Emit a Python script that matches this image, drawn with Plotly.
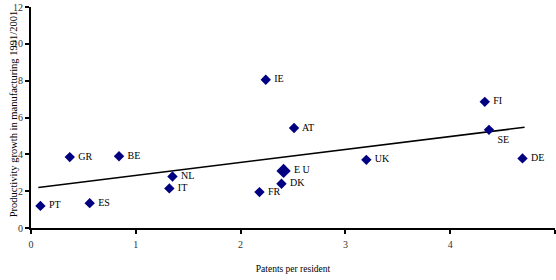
import plotly.graph_objects as go

countries = ["PT", "ES", "GR", "BE", "NL", "IT", "IE", "AT", "DK", "FR", "UK", "FI", "SE", "DE"]
patents = [0.09, 0.56, 0.37, 0.84, 1.35, 1.32, 2.24, 2.51, 2.39, 2.18, 3.20, 4.33, 4.37, 4.69]
productivity = [1.2, 1.35, 3.85, 3.9, 2.8, 2.15, 8.05, 5.43, 2.4, 1.95, 3.7, 6.85, 5.33, 3.78]

eu_label = ["E U"]
eu_patents = [2.41]
eu_productivity = [3.1]

trend_x = [0.07, 4.71]
trend_y = [2.2, 5.47]

x_ticks = [0, 1, 2, 3, 4, 5]
y_ticks = [0, 2, 4, 6, 8, 10, 12]

FONT = "Liberation Serif"
NAVY = "#000080"

positions = ["middle right"] * len(countries)
positions[countries.index("SE")] = "bottom right"

fig = go.Figure()
fig.add_trace(go.Scatter(
    x=trend_x, y=trend_y, mode="lines",
    line=dict(color="black", width=1.6), showlegend=False, hoverinfo="skip"))
fig.add_trace(go.Scatter(
    x=patents, y=productivity, mode="markers+text",
    text=[" " + c for c in countries], textposition=positions,
    textfont=dict(family=FONT, size=10, color="black"),
    marker=dict(symbol="diamond", size=8, color=NAVY),
    showlegend=False, cliponaxis=False))
fig.add_trace(go.Scatter(
    x=eu_patents, y=eu_productivity, mode="markers+text",
    text=[" " + t for t in eu_label], textposition="middle right",
    textfont=dict(family=FONT, size=10, color="black"),
    marker=dict(symbol="diamond", size=11, color=NAVY),
    showlegend=False, cliponaxis=False))

fig.update_layout(
    width=556, height=280,
    margin=dict(l=31, r=1, t=7, b=52),
    paper_bgcolor="white", plot_bgcolor="white",
    font=dict(family=FONT, size=9, color="black"),
    xaxis=dict(
        range=[0, 5], tickvals=x_ticks, showgrid=False, zeroline=False,
        showline=True, linecolor="black", linewidth=2, automargin=False,
        ticks="outside", ticklen=4, tickwidth=1.5, tickcolor="black",
        ticklabelstandoff=2,
        tickfont=dict(family=FONT, size=10, color="#333333"),
        title=dict(text="Patents per resident", font=dict(family=FONT, size=9.5), standoff=16)),
    yaxis=dict(
        range=[0, 12], tickvals=y_ticks, showgrid=False, zeroline=False,
        showline=True, linecolor="black", linewidth=2, automargin=False,
        ticks="outside", ticklen=4, tickwidth=1.5, tickcolor="black",
        tickfont=dict(family=FONT, size=10, color="#333333")),
    annotations=[dict(
        text="Productivity growth in manufacturing 1991/2001",
        xref="paper", yref="paper", x=-0.034, y=0.04,
        xanchor="center", yanchor="bottom", textangle=-90, showarrow=False,
        font=dict(family=FONT, size=10.5, color="black"))],
)

fig.write_html("out.html", post_script="document.body.style.margin='0';",
               config={"displayModeBar": False})
